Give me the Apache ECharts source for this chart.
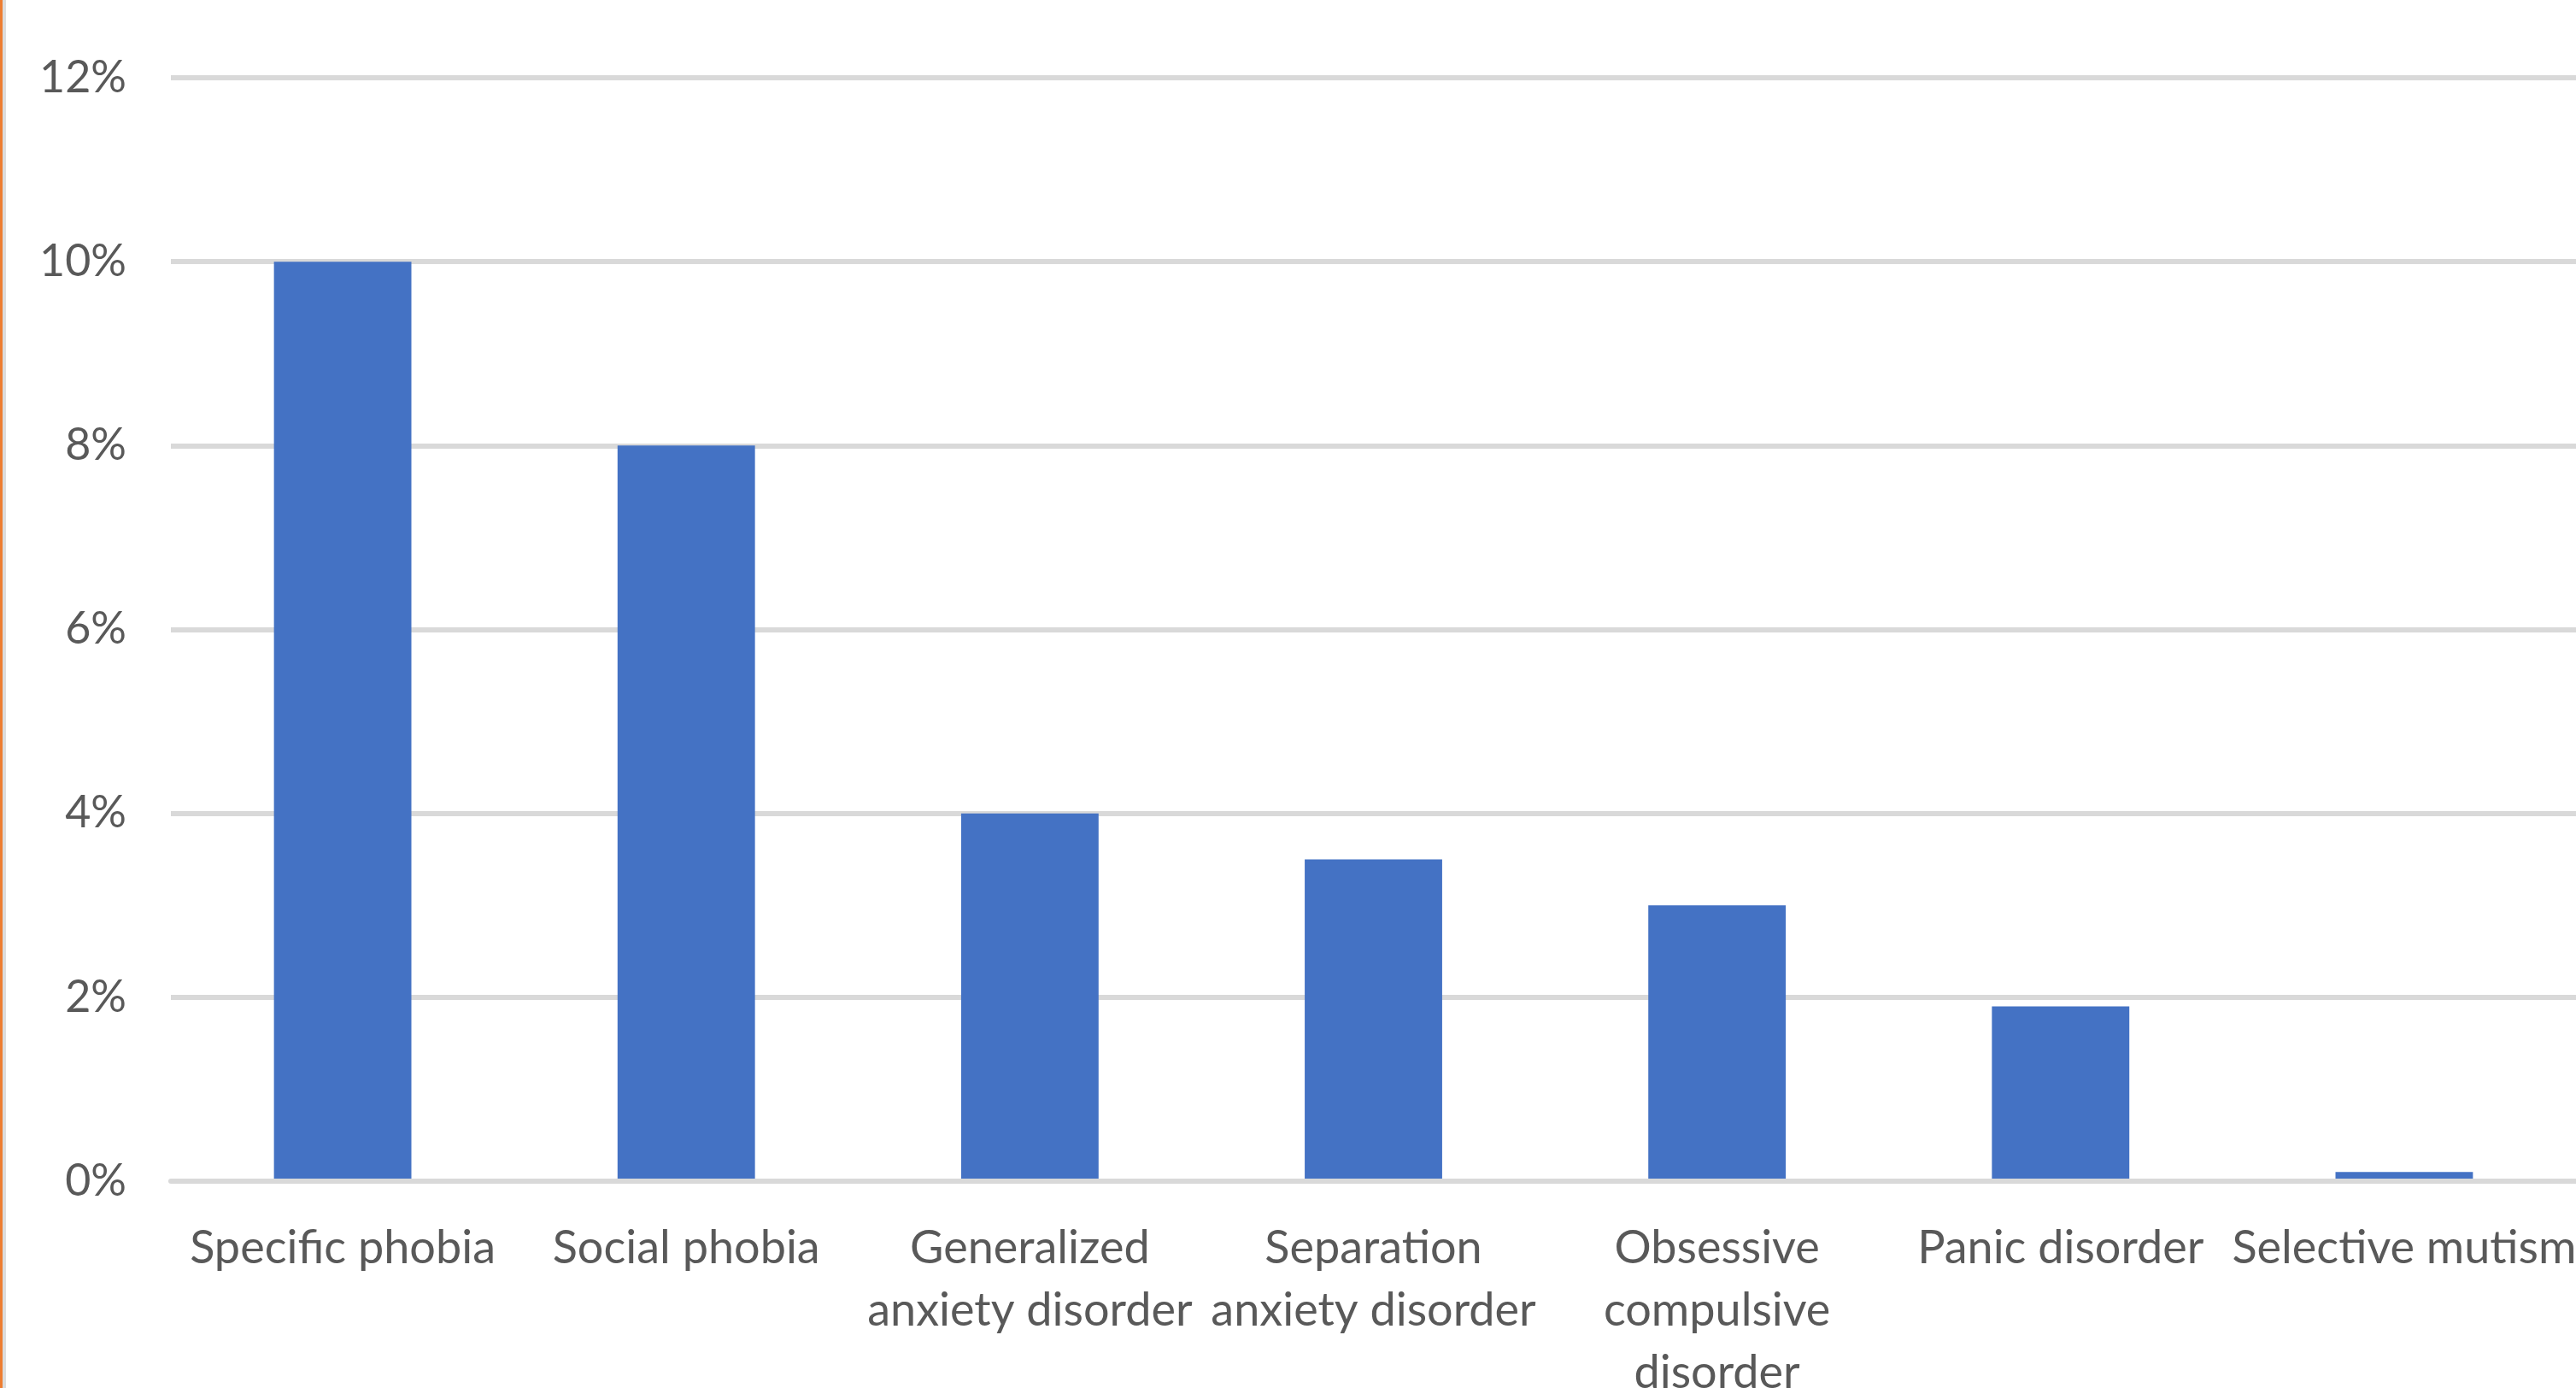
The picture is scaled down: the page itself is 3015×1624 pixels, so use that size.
<!DOCTYPE html>
<html>
<head>
<meta charset="utf-8">
<title>Anxiety disorders</title>
<script src="https://cdn.jsdelivr.net/npm/echarts@6/dist/echarts.min.js"></script>
<style>
  html, body { margin: 0; padding: 0; background: #ffffff; }
  #chart { width: 3015px; height: 1624px; }
</style>
</head>
<body>
<div id="chart"></div>
<script>
// Disorder names (line breaks where the labels wrap)
const categories = [
  'Specific phobia',
  'Social phobia',
  'Generalized\nanxiety disorder',
  'Separation\nanxiety disorder',
  'Obsessive\ncompulsive\ndisorder',
  'Panic disorder',
  'Selective mutism'
];

// Prevalence, as fractions
const prevalence = [0.10, 0.08, 0.04, 0.035, 0.03, 0.019, 0.001];

// Value axis ticks
const yMin = 0;
const yMax = 0.12;
const yStep = 0.02;

const labelColor = '#595959';
const gridColor = '#d9d9d9';
const fontFamily = 'Lato, "Open Sans", sans-serif';

const chart = echarts.init(document.getElementById('chart'), null, { renderer: 'canvas' });

chart.setOption({
  backgroundColor: '#ffffff',
  animation: false,
  grid: {
    left: 200, right: 0, top: 91, bottom: 242,
    containLabel: false,
    outerBoundsMode: 'none'
  },
  graphic: [
    { type: 'rect', left: 0, top: 0, z: 10, shape: { width: 3, height: 1624 }, style: { fill: '#ed7d31' } },
    { type: 'rect', left: 3, top: 0, z: 10, shape: { width: 4, height: 1624 }, style: { fill: '#dcdcdc' } }
  ],
  xAxis: {
    type: 'category',
    data: categories,
    z: 3,
    axisLine: { show: true, lineStyle: { color: gridColor, width: 6 } },
    axisTick: { show: false },
    axisLabel: {
      interval: 0,
      margin: 42,
      color: labelColor,
      fontFamily: fontFamily,
      fontSize: 54,
      lineHeight: 73,
      align: 'center'
    }
  },
  yAxis: {
    type: 'value',
    min: yMin,
    max: yMax,
    interval: yStep,
    axisLine: { show: false },
    axisTick: { show: false },
    splitLine: { show: true, lineStyle: { color: gridColor, width: 6 } },
    axisLabel: {
      margin: 52,
      color: labelColor,
      fontFamily: fontFamily,
      fontSize: 52,
      formatter: v => Math.round(v * 100) + '%'
    }
  },
  series: [{
    type: 'bar',
    data: prevalence,
    barWidth: '40%',
    itemStyle: { color: '#4472c4' }
  }]
});
</script>
</body>
</html>
